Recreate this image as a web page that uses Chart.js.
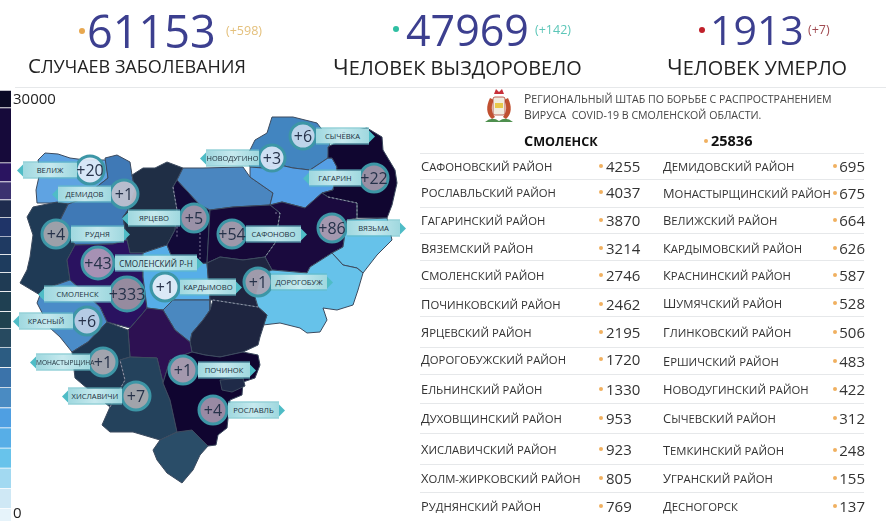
<!DOCTYPE html>
<html lang="ru"><head><meta charset="utf-8">
<script src="https://cdn.jsdelivr.net/npm/chart.js@4"></script>
<style>
html,body{margin:0;padding:0;background:#fff;width:886px;height:521px;overflow:hidden}
body{position:relative;font-family:"Open Sans","Noto Sans",sans-serif;color:#222;filter:blur(.3px)}
canvas{position:absolute;display:block}
.t{position:absolute;white-space:pre;transform:translateY(-50%);line-height:1}
.sc{text-transform:uppercase}
.sc::first-letter{font-size:1.14em}
.dot{position:absolute;border-radius:50%;transform:translate(-50%,-50%)}
.rule{position:absolute;height:1px;background:#e6e8ea}
.rib{position:absolute;height:15px;transform:translateY(-50%);background:linear-gradient(90deg,#9fd8df,#c6e9ee 50%,#9fd8df);border-top:1px solid #63bcc6;border-bottom:1px solid #63bcc6;font-size:7.6px;text-transform:uppercase;color:#20303c;text-align:center;line-height:15px;white-space:nowrap}
.rib i{position:absolute;top:2px;width:0;height:0;border-top:6px solid transparent;border-bottom:6px solid transparent}
.rib.l i{left:-6px;border-right:6px solid #4fbcc6}
.rib.r i{right:-6px;border-left:6px solid #4fbcc6}
.bub{position:absolute;transform:translate(-50%,-50%);font-size:16px;color:#26324a;line-height:1}
</style></head><body>
<canvas id="legend" width="11" height="431" style="left:0;top:90px"></canvas>
<canvas id="map" width="886" height="521" style="left:0;top:0"></canvas>
<script>
// ---------- totals ----------
const totalLabels = ["Случаев заболевания","Человек выздоровело","Человек умерло"];
const totalValues = ["61153","47969","1913"];
const totalDeltas = ["(+598)","(+142)","(+7)"];

// ---------- table ----------
const leftNames = ["Сафоновский район","Рославльский район","Гагаринский район","Вяземский район","Смоленский район","Починковский район","Ярцевский район","Дорогобужский район","Ельнинский район","Духовщинский район","Хиславичский район","Холм-Жирковский район","Руднянский район"];
const leftValues = [4255,4037,3870,3214,2746,2462,2195,1720,1330,953,923,805,769];
const rightNames = ["Демидовский район","Монастырщинский район","Велижский район","Кардымовский район","Краснинский район","Шумячский район","Глинковский район","Ершичский район","Новодугинский район","Сычевский район","Темкинский район","Угранский район","Десногорск"];
const rightValues = [695,675,664,626,587,528,506,483,422,312,248,155,137];

// ---------- colour legend (value span of each band, bottom to top) ----------
const legendBands = [900,1400,1400,1400,1400,1400,1400,1400,1400,1320,1180,1390,1320,1250,1250,1320,1250,1250,1320,3830,1220];
const legendColors = ["#e6f3fa","#cfe8f5","#a2d9f1","#68c3eb","#57aee7","#4f9fe2","#4a8bc2","#3b73aa","#2c5c82","#274a60","#20424f","#1f4052","#1f3b54","#1e3c5e","#1f3a62","#1f3468","#1e2c4e","#3c3270","#2a1460","#160a3a","#0b0a25"];

// ---------- map polygons (picture coordinates) ----------
const velizh = [[45,153],[58,154],[70,158],[85,160],[106,160],[108,178],[80,200],[68,204],[53,203],[37,203],[36,190],[40,172],[38,160],[45,153]];
const demidov = [[105,158],[117,155],[130,162],[132,175],[135,190],[128,210],[123,217],[127,240],[113,244],[75,245],[60,220],[68,204],[80,200],[108,178],[105,158]];
const dukhov = [[132,175],[143,168],[155,168],[167,162],[183,168],[177,180],[173,187],[177,210],[175,230],[167,245],[143,253],[130,253],[127,240],[123,217],[128,210],[135,190],[132,175]];
const rudnya = [[33,207],[57,202],[68,204],[60,220],[75,245],[67,260],[70,280],[50,287],[40,295],[20,283],[27,270],[30,257],[33,235],[27,217],[33,207]];
const smolR = [[75,245],[113,244],[127,240],[130,253],[143,253],[143,277],[147,308],[143,313],[130,328],[107,322],[100,307],[70,280],[67,260],[75,245]];
const krasny = [[70,280],[100,307],[107,322],[88,342],[72,352],[60,337],[50,328],[37,303],[40,295],[50,287],[70,280]];
const kardym = [[143,277],[143,253],[167,245],[175,265],[207,263],[210,300],[173,300],[163,310],[147,308],[143,277]];
const glinka = [[173,300],[210,300],[210,310],[203,320],[192,333],[190,342],[175,330],[163,310],[173,300]];
const yartsevo = [[177,180],[200,205],[210,210],[207,263],[175,265],[167,245],[175,230],[177,210],[173,187],[177,180]];
const kholm = [[177,180],[183,168],[203,168],[243,167],[250,177],[273,193],[270,205],[233,207],[210,210],[200,205],[177,180]];
const sychevka = [[272,117],[293,117],[317,123],[330,140],[328,158],[310,170],[293,168],[280,165],[263,168],[250,167],[246,158],[255,140],[267,133],[272,117]];
const novodug = [[250,167],[263,168],[280,165],[293,168],[310,170],[328,158],[332,158],[337,167],[333,190],[322,193],[305,208],[282,202],[270,205],[273,193],[250,177],[250,167]];
const gagarin = [[328,147],[357,130],[367,128],[382,137],[383,150],[395,170],[397,183],[392,205],[387,218],[357,218],[357,203],[328,197],[322,193],[333,190],[337,167],[332,158],[328,158],[328,147]];
const vyazma = [[270,205],[282,202],[305,208],[322,193],[328,197],[357,203],[357,218],[347,220],[343,247],[332,253],[310,267],[307,273],[272,270],[265,257],[275,243],[280,213],[270,205]];
const safonovo = [[210,210],[233,207],[270,205],[280,213],[275,243],[265,257],[243,260],[220,257],[207,263],[210,210]];
const dorogob = [[207,263],[220,257],[243,260],[265,257],[272,270],[260,275],[258,285],[255,297],[258,307],[213,300],[210,300],[207,263]];
const temkino = [[347,220],[387,218],[392,240],[377,255],[363,273],[357,268],[343,265],[332,253],[343,247],[347,220]];
const ugran = [[332,253],[343,265],[357,268],[363,273],[358,290],[353,305],[337,310],[323,308],[327,320],[320,332],[307,333],[300,328],[280,323],[263,325],[267,315],[258,307],[255,297],[258,285],[260,275],[272,270],[307,273],[310,267],[332,253]];
const yelnya = [[213,300],[258,307],[267,315],[260,337],[258,345],[243,352],[220,357],[205,355],[192,352],[190,342],[192,333],[203,320],[210,310],[213,300]];
const pochinok = [[130,328],[143,313],[147,308],[163,310],[175,330],[190,342],[192,352],[170,360],[163,383],[157,358],[130,357],[128,330],[130,328]];
const monast = [[72,352],[88,342],[107,322],[128,330],[130,357],[120,360],[125,380],[110,407],[95,395],[75,378],[72,352]];
const khisl = [[120,360],[130,357],[157,358],[163,383],[170,400],[177,432],[160,440],[133,432],[110,432],[102,425],[110,407],[125,380],[120,360]];
const shumyachi = [[160,440],[177,432],[192,430],[208,446],[200,455],[193,470],[187,477],[182,483],[167,473],[157,460],[153,450],[160,440]];
const roslavl = [[170,400],[163,383],[170,360],[192,352],[205,355],[220,357],[243,352],[258,355],[260,365],[255,378],[243,382],[242,395],[230,400],[227,428],[218,435],[216,445],[208,446],[192,430],[177,432],[170,400]];
const desno = [[220,380],[243,378],[245,386],[232,392],[222,390],[220,380]];

const regionShapes = [velizh,demidov,dukhov,rudnya,smolR,krasny,kardym,glinka,yartsevo,kholm,sychevka,novodug,gagarin,vyazma,safonovo,dorogob,temkino,ugran,yelnya,pochinok,monast,khisl,shumyachi,roslavl,desno];
const regionFills = ["#5fa3e2","#3f79b6","#1f2e45","#1f3a55","#2a1260","#4a8cc8","#56aee8","#4a88c0","#120a38","#4a86c0","#4285c0","#559fe5","#100630","#1a0a3e","#160838","#1f2540","#66c2ea","#66c2ea","#1e2540","#2d1152","#1e3650","#24425c","#2a4d68","#100530","#1f2a48"];

// ---------- pale dashed borders between dark districts ----------
const dashA = [[275,213],[280,213],[275,243],[265,257]];
const dashB = [[328,197],[357,203],[357,218]];
const dashC = [[173,187],[177,210],[177,237]];
const dashD = [[200,233],[200,263]];
const dashE = [[213,300],[258,307]];
const dashF = [[110,407],[125,380],[120,360]];
const dashLines = [dashA,dashB,dashC,dashD,dashE,dashF];

// ---------- case bubbles ----------
const bubbleDeltas = ["+20","+1","+5","+4","+43","+333","+1","+6","+1","+7","+1","+4","+1","+86","+54","+22","+6","+3"];
const bubbleX = [90,124,194,56,98,127,165,87,103,136,183,213,258,332,232,374,303,272];
const bubbleY = [170,194,218,234,263,294,287,321,362,396,370,410,282,228,234,178,136,158];
const bubbleR = [14,14,14,14,16,17,14,14,14,14,14,14,14,14,14,14,13,13];
const bubbleFills = ["rgba(226,236,248,.92)","rgba(196,196,208,.9)","rgba(170,160,180,.9)","rgba(170,172,178,.9)","rgba(180,160,190,.9)","rgba(160,150,165,.92)","rgba(226,236,248,.95)","rgba(190,208,230,.92)","rgba(172,174,182,.92)","rgba(172,172,178,.92)","rgba(176,165,185,.92)","rgba(165,150,175,.92)","rgba(170,165,180,.92)","rgba(176,165,185,.92)","rgba(170,165,180,.92)","rgba(165,155,175,.92)","rgba(196,216,236,.95)","rgba(214,228,245,.95)"];
const ribbonNames = ["Велиж","Демидов","Ярцево","Рудня","Смоленский р-н","Смоленск","Кардымово","Красный","Монастырщина","Хиславичи","Починок","Рославль","Дорогобуж","Вязьма","Сафоново","Гагарин","Сычёвка","Новодугино"];
const ribbonLeft = [23,58,128,71,115,44,180,19,36,68,198,228,271,347,246,309,316,206];
const ribbonRight = [77,111,180,124,197,111,236,73,90,122,250,279,327,400,301,361,369,259];
const ribbonSide = ["l","l","l","r","r","l","r","l","l","l","r","r","r","r","r","l","r","l"];
const ribbonFont = [7.6,7.6,7.6,7.6,8.2,7.6,7.6,7.6,6.6,7.6,7.6,7.6,7.6,7.6,7.6,7.6,7.6,7.4];

// ---------- helpers ----------
function text(str,x,y,css,cls){const e=document.createElement('div');e.className='t '+(cls||'');e.textContent=str;e.style.cssText='left:'+x+'px;top:'+y+'px;'+css;document.body.appendChild(e);return e;}
function rtext(str,r,y,css,cls){const e=text(str,0,y,css,cls);e.style.left='auto';e.style.right=(886-r)+'px';return e;}
function dot(x,y,d,c){const e=document.createElement('div');e.className='dot';e.style.cssText='left:'+x+'px;top:'+y+'px;width:'+d+'px;height:'+d+'px;background:'+c;document.body.appendChild(e);}
function rule(x,y,w){const e=document.createElement('div');e.className='rule';e.style.cssText='left:'+x+'px;top:'+y+'px;width:'+w+'px';document.body.appendChild(e);}

// ---------- charts ----------
new Chart(document.getElementById('legend'),{
  type:'bar',
  data:{labels:['шкала'],datasets:legendBands.map((v,i)=>({data:[v],backgroundColor:legendColors[i],borderColor:'rgba(255,255,255,.3)',borderWidth:{top:1,left:0,right:0,bottom:0},borderSkipped:false,barPercentage:1,categoryPercentage:1,stack:'s'}))},
  options:{responsive:false,animation:false,layout:{padding:0,autoPadding:false},plugins:{legend:{display:false},tooltip:{enabled:false}},
    scales:{x:{display:false,stacked:true},y:{display:false,stacked:true,min:0,max:30000}}}
});
const polyDatasets = regionShapes.map((p,i)=>({type:'scatter',showLine:true,data:p.map(q=>({x:q[0],y:q[1]})),fill:'shape',backgroundColor:regionFills[i],borderColor:'#3c4a5e',borderWidth:1,pointRadius:0,tension:0,order:100-i}));
const dashDatasets = dashLines.map(p=>({type:'scatter',showLine:true,data:p.map(q=>({x:q[0],y:q[1]})),fill:false,borderColor:'rgba(205,200,220,.6)',borderWidth:1,borderDash:[2,2],pointRadius:0,tension:0,order:5}));
new Chart(document.getElementById('map'),{
  type:'scatter',
  data:{datasets:[...polyDatasets,...dashDatasets,{type:'bubble',data:bubbleX.map((x,i)=>({x,y:bubbleY[i],r:bubbleR[i]})),backgroundColor:bubbleFills,borderColor:'#3d96a6',borderWidth:3,order:0}]},
  options:{responsive:false,animation:false,layout:{padding:0,autoPadding:false},plugins:{legend:{display:false},tooltip:{enabled:false}},
    scales:{x:{display:false,type:'linear',min:0,max:886},y:{display:false,type:'linear',min:0,max:521,reverse:true}}}
});

// ---------- ribbons and bubble text ----------
ribbonNames.forEach((n,i)=>{
  const e=document.createElement('div');e.className='rib '+ribbonSide[i];
  e.style.left=ribbonLeft[i]+'px';e.style.width=(ribbonRight[i]-ribbonLeft[i])+'px';e.style.top=bubbleY[i]+'px';e.style.fontSize=ribbonFont[i]+'px';
  e.textContent=n;const a=document.createElement('i');e.appendChild(a);document.body.appendChild(e);
});
bubbleDeltas.forEach((d,i)=>{
  const e=document.createElement('div');e.className='bub';e.textContent=d;
  e.style.left=bubbleX[i]+'px';e.style.top=bubbleY[i]+'px';document.body.appendChild(e);
});

// ---------- header ----------
dot(82,31,6,'#e8a850');text(totalValues[0],87,30,'color:#3c3f8f;font-size:45px');text(totalDeltas[0],226,31,'font-size:12.5px;color:#e4c07c');
dot(396,29,6,'#2fbfa2');text(totalValues[1],406,29,'color:#3c3f8f;font-size:43px');text(totalDeltas[1],535,30,'font-size:12.5px;color:#5cc6b8');
dot(702,30,6,'#c0202a');text(totalValues[2],710,29,'color:#3c3f8f;font-size:41px');text(totalDeltas[2],808,30,'font-size:12.5px;color:#a04a50');
text(totalLabels[0],28,65,'font-size:18px;color:#222','sc');
text(totalLabels[1],333,67,'font-size:19.9px;color:#222','sc');
text(totalLabels[2],667,67,'font-size:19.9px;color:#222','sc');
rule(15,87,871);
text('30000',13,98,'font-size:15px;color:#222');
text('0',13,512,'font-size:15px;color:#222');

// ---------- table head ----------
text('Региональный штаб по борьбе с распространением',524,99,'font-size:10.6px;color:#444','sc');
text('вируса  COVID-19 в Смоленской области.',524,115,'font-size:10.6px;color:#444','sc');
text('Смоленск',524,141,'font-size:12.6px;font-weight:700;color:#111','sc');
dot(706,141,4,'#f0b060');
text('25836',711,141,'font-size:14.5px;font-weight:700;color:#111');

// ---------- table rows ----------
const leftRowY=[166,192,220,248,275,304,332,359,389,418,449,478,506];
const rightRowY=[166,193,220,248,275,303,332,361,389,418,450,478,506];
const ruleY=[153,179,207,233,260,288,316,347,374,403,433,464,492];
ruleY.forEach(y=>rule(420,y,444));
leftNames.forEach((n,i)=>{text(n,421,leftRowY[i],'font-size:11.3px;color:#333','sc');dot(601,leftRowY[i],4,'#f0b060');text(String(leftValues[i]),606,leftRowY[i],'font-size:15px;color:#333');});
rightNames.forEach((n,i)=>{text(n,663,rightRowY[i],'font-size:11.3px;color:#333','sc');dot(835,rightRowY[i],4,'#f0b060');rtext(String(rightValues[i]),865,rightRowY[i],'font-size:15px;color:#333');});
</script>
<svg style="position:absolute;left:484px;top:88px" width="30" height="36" viewBox="0 0 30 36">
<path d="M10 6 L12 1 L15 4 L18 1 L20 6 Z" fill="#c8303a"/>
<path d="M6 10 C2 18 2 26 8 31 L11 29 C7 24 7 17 10 12 Z M24 10 C28 18 28 26 22 31 L19 29 C23 24 23 17 20 12 Z" fill="#c05030"/>
<rect x="9" y="9" width="12" height="18" rx="2" fill="#f1ece0" stroke="#b04030" stroke-width=".8"/>
<rect x="11" y="15" width="8" height="5" fill="#e8c84a"/>
<path d="M1 34 Q8 28 15 33 Q22 28 29 34 Z" fill="#4e8f4e"/>
</svg>
</body></html>
